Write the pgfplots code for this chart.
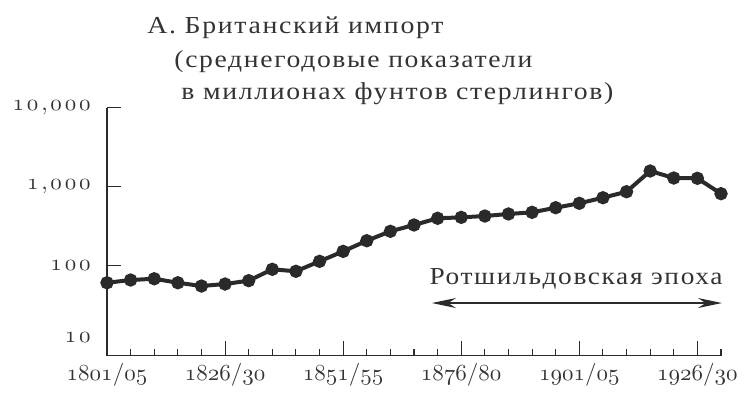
\RequirePackage{fix-cm}
\documentclass[border=0pt]{standalone}
\usepackage{graphicx}
\usepackage{fontspec}
\setmainfont{Liberation Serif}
\newfontfamily\tfam[LetterSpace=6]{Liberation Serif}
\usepackage{pgfplots}
\pgfplotsset{compat=1.18}
\usetikzlibrary{arrows.meta}
\definecolor{ink}{HTML}{2A2A2A}
\definecolor{txt}{HTML}{333333}
\newcommand{\os}[1]{\ensuremath{\mathnormal{#1}}}
\newcommand{\sk}{\kern1.4pt}
\newcommand{\tfont}{\tfam\fontsize{12.2}{14}\selectfont}
\newcommand{\fit}[2]{\resizebox{#1}{\height}{#2}}
\begin{document}
\begin{tikzpicture}
\begin{axis}[
  scale only axis, width=307pt, height=124pt,
  ymode=log, ymin=7.26, ymax=10000,
  xmin=0, xmax=26,
  axis lines=left,
  axis line style={-, draw=ink, line width=0.55pt},
  tick align=inside,
  xtick={0,5,10,15,20,25},
  xticklabels={\os{1801/05},\os{1826/30},\os{1851/55},\os{1876/80},\os{1901/05},\os{1926/30}},
  minor xtick={0,1,2,3,4,5,6,7,8,9,10,11,12,13,14,15,16,17,18,19,20,21,22,23,24,25,26},
  major tick length=7.2pt, minor tick length=3.5pt,
  tick style={draw=ink, line width=0.55pt},
  ytick={100,1000,10000},
  yticklabels={\os{1\sk0\sk0},\os{1\sk{,}\sk0\sk0\sk0},\os{1\sk0\sk{,}\sk0\sk0\sk0}},
  yminorticks=false,
  extra y ticks={10},
  extra y tick labels={\os{1\sk0}},
  extra y tick style={major tick length=0pt, yticklabel style={yshift=3.5pt}},
  xticklabel style={anchor=north, inner sep=0pt, yshift=-3.5pt, font=\fontsize{11.5}{12}\selectfont, text=txt},
  yticklabel style={anchor=east, inner sep=0pt, xshift=-8pt, font=\fontsize{11.5}{12}\selectfont, text=txt},
  clip=false,
]
\addplot[ink, line width=2pt, mark=*, mark size=2.3pt, mark options={fill=ink, draw=ink, solid}] coordinates {
(0,60.5) (1,65.5) (2,68) (3,60.5) (4,55) (5,58.3) (6,64.3) (7,89.5) (8,84.5)
(9,113) (10,151) (11,206) (12,271) (13,326) (14,396) (15,407) (16,423)
(17,449) (18,471) (19,539) (20,613) (21,721) (22,859) (23,1571) (24,1281)
(25,1270) (26,811)
};
\draw[{Stealth[length=12pt,width=5pt]}-{Stealth[length=12pt,width=5pt]}, ink, line width=0.6pt]
  (axis cs:13.76,33.5) -- (axis cs:26.04,33.5);
\node[anchor=base west, inner sep=0pt, font=\tfont, text=txt] at (axis cs:13.64,57.8) {\fit{146.5pt}{Ротшильдовская эпоха}};
\node[anchor=base west, inner sep=0pt, font=\tfont, text=txt] at ([xshift=20pt,yshift=37.1pt]rel axis cs:0,1) {\fit{148pt}{А. Британский импорт}};
\node[anchor=base west, inner sep=0pt, font=\tfont, text=txt] at ([xshift=33.5pt,yshift=20.1pt]rel axis cs:0,1) {\fit{179pt}{(среднегодовые показатели}};
\node[anchor=base west, inner sep=0pt, font=\tfont, text=txt] at ([xshift=37pt,yshift=3.75pt]rel axis cs:0,1) {\fit{216pt}{в миллионах фунтов стерлингов)}};
\end{axis}
\pgfresetboundingbox
\path ([xshift=-53.5pt,yshift=-19.75pt]current axis.south west) rectangle ([xshift=17.5pt,yshift=53.75pt]current axis.north east);
\end{tikzpicture}
\end{document}
